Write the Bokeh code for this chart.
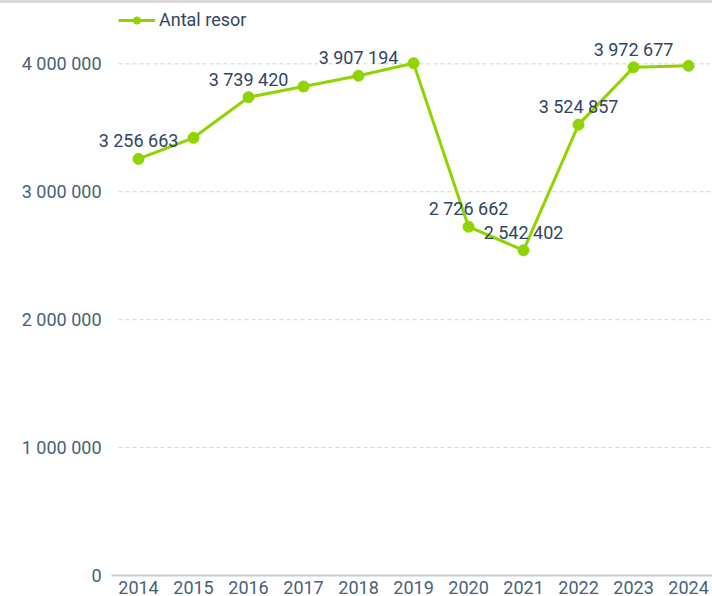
from bokeh.plotting import figure
from bokeh.models import (ColumnDataSource, Range1d, FixedTicker, CustomJSTickFormatter,
                          Legend, LegendItem, Div, Label)
from bokeh.layouts import column
from bokeh.embed import file_html
from bokeh.resources import INLINE

# Antal resor per år
years = [2014, 2015, 2016, 2017, 2018, 2019, 2020, 2021, 2022, 2023, 2024]
trips = [3256663, 3422000, 3739420, 3823000, 3907194, 4005000,
         2726662, 2542402, 3524857, 3972677, 3985000]
labeled_years = [2014, 2016, 2018, 2020, 2021, 2022, 2023]
y_ticks = [0, 1000000, 2000000, 3000000, 4000000]
series_name = "Antal resor"

GREEN = "#8fd300"
TEXT = "#2f4563"
AXIS_TEXT = "#48607a"
GRID = "#cdd5de"
FONT = "Roboto"

# x extents: the frame is widened on the left so the first value label
# is not clipped; axis line and grid lines start a little further in
X_START, X_END = 2013.218, 2024.436
AXIS_FROM = 2013.509
GRID_FROM = 2013.636


def fmt(v):
    return f"{int(round(v)):,}".replace(",", " ")


src = ColumnDataSource(dict(year=years, trips=trips))
grid_src = ColumnDataSource(dict(y=y_ticks[1:]))

p = figure(width=712, height=593, output_backend="svg", toolbar_location=None,
           x_range=Range1d(X_START, X_END), y_range=Range1d(0, 4464000),
           min_border_left=95, min_border_right=0, min_border_top=1,
           min_border_bottom=21, margin=0)
p.outline_line_color = None
p.background_fill_color = "white"
p.border_fill_color = "white"

# dashed horizontal grid lines at the y ticks
p.segment(x0=GRID_FROM, x1=X_END, y0="y", y1="y", source=grid_src,
          line_color=GRID, line_width=1, line_dash="4 3")

line_r = p.line("year", "trips", source=src, line_color=GREEN, line_width=3)
pts_r = p.scatter("year", "trips", source=src, size=11, fill_color=GREEN,
                  line_color=GREEN)
# smaller marker used only for the legend symbol (nothing plotted)
legend_marker = p.scatter(x=[float("nan")], y=[float("nan")], size=8,
                          fill_color=GREEN, line_color=GREEN)

# value labels above selected points
for yr in labeled_years:
    i = years.index(yr)
    p.add_layout(Label(x=years[i], y=trips[i], text=fmt(trips[i]), y_offset=18,
                       text_align="center", text_baseline="middle",
                       text_font=FONT, text_font_size="18px", text_color=TEXT))

# axes
xa = p.xaxis[0]
xa.ticker = FixedTicker(ticks=years)
xa.bounds = (AXIS_FROM, X_END)
xa.axis_line_color = "#c3cdd8"
xa.axis_line_width = 2
xa.major_tick_line_color = None
xa.minor_tick_line_color = None
xa.major_label_standoff = -1
xa.major_label_text_font = FONT
xa.major_label_text_font_size = "18px"
xa.major_label_text_color = AXIS_TEXT

ya = p.yaxis[0]
ya.ticker = FixedTicker(ticks=y_ticks)
ya.formatter = CustomJSTickFormatter(
    code="return Math.round(tick).toString().replace(/\\B(?=(\\d{3})+(?!\\d))/g, ' ');")
ya.axis_line_color = None
ya.major_tick_line_color = None
ya.minor_tick_line_color = None
ya.major_label_standoff = -12
ya.major_label_text_font = FONT
ya.major_label_text_font_size = "18px"
ya.major_label_text_color = AXIS_TEXT

p.xgrid.grid_line_color = None
p.ygrid.grid_line_color = None

legend = Legend(items=[LegendItem(label=series_name, renderers=[line_r, legend_marker])],
                location=(23, 545), orientation="horizontal",
                glyph_width=37, glyph_height=18, label_standoff=4,
                padding=0, margin=0, spacing=0,
                label_text_font=FONT, label_text_font_size="18px",
                label_text_color=TEXT, border_line_color=None,
                background_fill_alpha=0)
p.add_layout(legend)

top_rule = Div(text="", width=712, height=3, margin=0,
               styles={"background-color": "#d9d9d9"})

layout = column(top_rule, p, spacing=0, margin=0)
open("out.html", "w").write(file_html(layout, INLINE))
